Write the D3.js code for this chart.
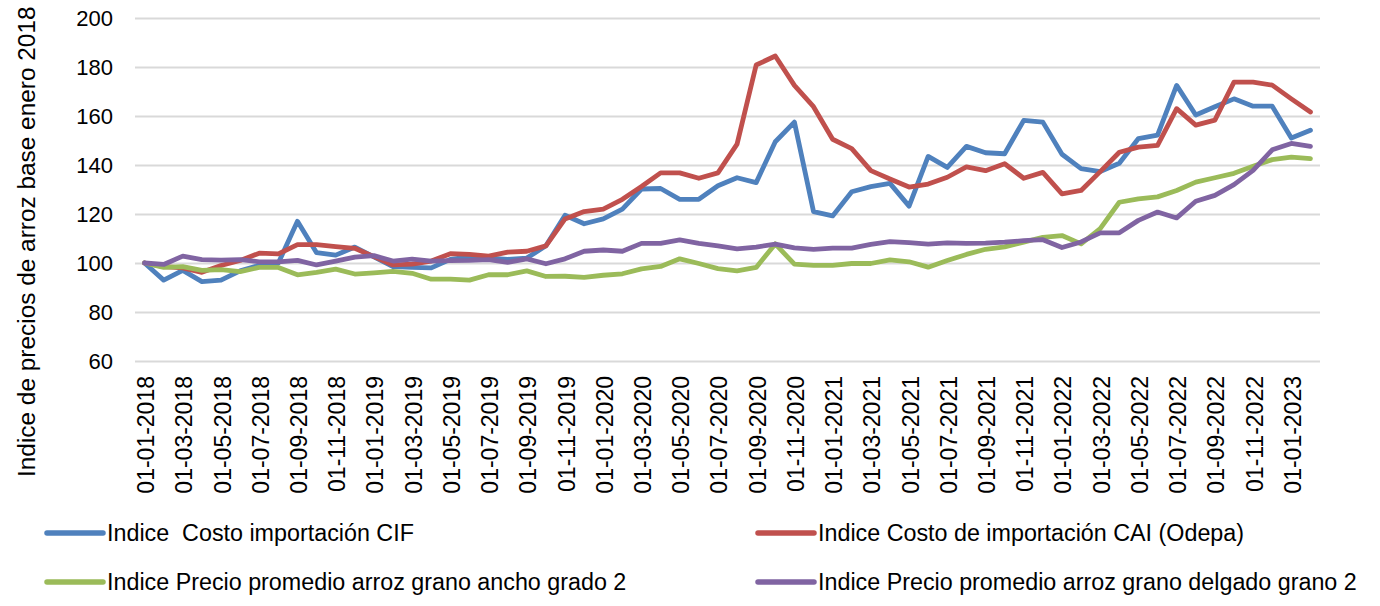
<!DOCTYPE html>
<html lang="es">
<head>
<meta charset="utf-8">
<title>Índices de precios de arroz</title>
<script src="https://cdn.jsdelivr.net/npm/d3@7"></script>
<style>
  html, body { margin: 0; padding: 0; background: #ffffff; }
  svg { display: block; font-family: "Liberation Sans", Arial, Helvetica, sans-serif; }
  text { white-space: pre; fill: #000000; }
</style>
</head>
<body>
<svg id="chart" width="1380" height="606"></svg>
<script>
// Monthly categories: January 2018 through February 2023
const months = [
  "01-01-2018","01-02-2018","01-03-2018","01-04-2018","01-05-2018","01-06-2018",
  "01-07-2018","01-08-2018","01-09-2018","01-10-2018","01-11-2018","01-12-2018",
  "01-01-2019","01-02-2019","01-03-2019","01-04-2019","01-05-2019","01-06-2019",
  "01-07-2019","01-08-2019","01-09-2019","01-10-2019","01-11-2019","01-12-2019",
  "01-01-2020","01-02-2020","01-03-2020","01-04-2020","01-05-2020","01-06-2020",
  "01-07-2020","01-08-2020","01-09-2020","01-10-2020","01-11-2020","01-12-2020",
  "01-01-2021","01-02-2021","01-03-2021","01-04-2021","01-05-2021","01-06-2021",
  "01-07-2021","01-08-2021","01-09-2021","01-10-2021","01-11-2021","01-12-2021",
  "01-01-2022","01-02-2022","01-03-2022","01-04-2022","01-05-2022","01-06-2022",
  "01-07-2022","01-08-2022","01-09-2022","01-10-2022","01-11-2022","01-12-2022",
  "01-01-2023","01-02-2023"
];

// Índice Costo importación CIF
const costoCIF = [
  100, 93, 97, 92.4, 93, 96.8, 99, 100, 117, 104.2, 103.2, 106.5,
  102.5, 98.5, 98.2, 98, 101.5, 102.5, 102, 101.5, 102, 107, 119.5, 116,
  118, 122, 130.2, 130.4, 126, 126, 131.5, 134.8, 132.8, 149.5, 157.5, 121,
  119.2, 129.1, 131.2, 132.5, 123.2, 143.5, 139, 147.6, 145, 144.6, 158.2, 157.5,
  144.4, 138.5, 137.3, 140.7, 150.8, 152.2, 172.5, 160.4, 163.8, 167, 164, 164,
  151, 154.2
];

// Índice Costo de importación CAI (Odepa)
const costoCAI = [
  100, 98.5, 98, 96.2, 99, 101, 104, 103.7, 107.5, 107.5, 106.7, 106,
  102.6, 99.2, 99.5, 100.8, 103.8, 103.5, 102.8, 104.4, 104.8, 107, 118, 121,
  122, 126, 131.2, 136.8, 136.8, 134.6, 136.8, 148.5, 180.8, 184.5, 172.5, 163.8,
  150.5, 146.7, 137.7, 134.3, 131, 132.2, 135, 139.2, 137.7, 140.5, 134.6, 137,
  128.2, 129.6, 137.3, 145.2, 147.3, 148, 163, 156.3, 158.3, 173.8, 173.8, 172.6,
  167, 161.6
];

// Índice Precio promedio arroz grano ancho grado 2
const granoAncho = [
  100, 98.2, 98.5, 97, 97.3, 96.5, 98.2, 98.2, 95.2, 96.2, 97.5, 95.5,
  96, 96.6, 95.8, 93.4, 93.4, 93, 95.2, 95.2, 96.8, 94.5, 94.6, 94.1,
  95, 95.6, 97.6, 98.6, 101.7, 99.8, 97.7, 96.8, 98.2, 107.8, 99.5, 99,
  99, 99.8, 99.8, 101.3, 100.5, 98.3, 101, 103.5, 105.6, 106.6, 108.5, 110.5,
  111.2, 107.8, 114, 124.8, 126.2, 127, 129.6, 133, 134.8, 136.6, 139.5, 142.2,
  143.2, 142.6
];

// Índice Precio promedio arroz grano delgado grano 2
const granoDelgado = [
  100, 99.4, 102.8, 101.4, 101.2, 101.4, 100.5, 100.5, 101.1, 99.2, 100.8, 102.4,
  103, 100.8, 101.6, 100.8, 101, 101.1, 101.4, 100.3, 101.7, 99.7, 101.7, 104.8,
  105.3, 104.8, 108, 108, 109.4, 108, 107, 105.8, 106.5, 107.7, 106.2, 105.6,
  106.1, 106.1, 107.6, 108.7, 108.3, 107.7, 108.2, 108, 108.1, 108.5, 109.1, 109.5,
  106.3, 108.6, 112.3, 112.3, 117.4, 120.8, 118.4, 125.2, 127.6, 132, 137.8, 146.2,
  148.8, 147.6
];

const yTicks = [60, 80, 100, 120, 140, 160, 180, 200];
const xLabels = months.filter((d, i) => i % 2 === 0);

const seriesNames = [
  "Indice  Costo importación CIF",
  "Indice Costo de importación CAI (Odepa)",
  "Indice Precio promedio arroz grano ancho grado 2",
  "Indice Precio promedio arroz grano delgado grano 2"
];
const seriesColors = ["#4F81BD", "#C0504D", "#9BBB59", "#8064A2"];
const yTitle = "Indice de precios de arroz base enero 2018";

const series = [costoCIF, costoCAI, granoAncho, granoDelgado].map((values, k) => ({
  name: seriesNames[k],
  color: seriesColors[k],
  values
}));

const svg = d3.select("#chart");

const plot = { left: 135, right: 1320, top: 18, bottom: 361 };

const x = d3.scalePoint()
  .domain(months)
  .range([plot.left, plot.right])
  .padding(0.5);

const y = d3.scaleLinear()
  .domain([60, 200])
  .range([plot.bottom, plot.top]);

// Horizontal gridlines with value labels on the left
const yAxis = d3.axisLeft(y)
  .tickValues(yTicks)
  .tickSize(-(plot.right - plot.left))
  .tickPadding(22);

const gy = svg.append("g")
  .attr("transform", `translate(${plot.left},0)`)
  .call(yAxis);
gy.select(".domain").remove();
gy.selectAll(".tick line")
  .attr("stroke", "#d9d9d9")
  .attr("stroke-width", 2);
gy.selectAll(".tick text")
  .attr("font-size", 22)
  .attr("font-family", "\"Liberation Sans\", Arial, sans-serif")
  .attr("fill", "#000");

// Category axis: rotated date labels every two months
const xAxis = d3.axisBottom(x)
  .tickValues(xLabels)
  .tickSize(0)
  .tickPadding(0);

const gx = svg.append("g")
  .attr("transform", `translate(0,${plot.bottom})`)
  .call(xAxis);
gx.select(".domain").remove();
gx.selectAll(".tick text")
  .attr("font-size", 23)
  .attr("font-family", "\"Liberation Sans\", Arial, sans-serif")
  .attr("fill", "#000")
  .attr("text-anchor", "end")
  .attr("dominant-baseline", "central")
  .attr("dy", null)
  .attr("y", 0)
  .attr("transform", "translate(1,15) rotate(-90)");

// Vertical axis title
svg.append("text")
  .attr("transform", "translate(35,477) rotate(-90)")
  .attr("text-anchor", "start")
  .attr("font-size", 24.4)
  .text(yTitle);

// Series lines
const line = d3.line()
  .x((d, i) => x(months[i]))
  .y(d => y(d));

svg.append("g")
  .selectAll("path")
  .data(series)
  .join("path")
  .attr("fill", "none")
  .attr("stroke", d => d.color)
  .attr("stroke-width", 4.8)
  .attr("stroke-linejoin", "round")
  .attr("stroke-linecap", "round")
  .attr("d", d => line(d.values));

// Legend: two columns, two rows
const legendPos = [
  { x: 47, y: 533 },
  { x: 758, y: 533 },
  { x: 47, y: 582 },
  { x: 758, y: 582 }
];

const legend = svg.append("g")
  .selectAll("g")
  .data(series)
  .join("g")
  .attr("transform", (d, i) => `translate(${legendPos[i].x},${legendPos[i].y})`);

legend.append("line")
  .attr("x1", 0)
  .attr("x2", 56)
  .attr("y1", 0)
  .attr("y2", 0)
  .attr("stroke", d => d.color)
  .attr("stroke-width", 5.5)
  .attr("stroke-linecap", "round");

legend.append("text")
  .attr("x", 60)
  .attr("y", 0)
  .attr("dominant-baseline", "central")
  .attr("font-size", 23.3)
  .text(d => d.name);
</script>
</body>
</html>
